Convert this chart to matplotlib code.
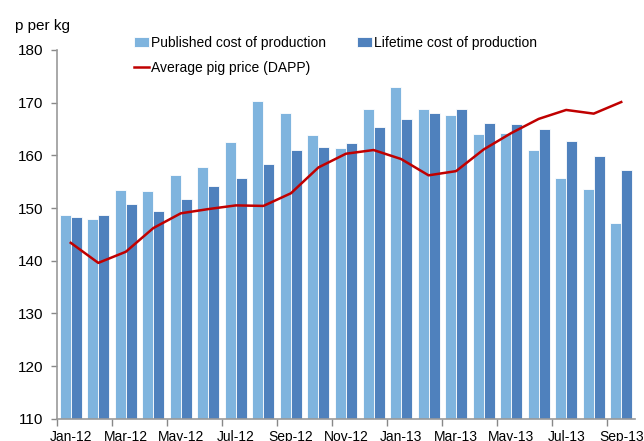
import matplotlib
matplotlib.use("Agg")
import matplotlib.pyplot as plt
import numpy as np

plt.rcParams['font.family'] = ['Liberation Sans', 'DejaVu Sans']

months = ["Jan-12", "Feb-12", "Mar-12", "Apr-12", "May-12", "Jun-12", "Jul-12",
          "Aug-12", "Sep-12", "Oct-12", "Nov-12", "Dec-12", "Jan-13", "Feb-13",
          "Mar-13", "Apr-13", "May-13", "Jun-13", "Jul-13", "Aug-13", "Sep-13"]
published = [148.6, 148.0, 153.5, 153.2, 156.2, 157.8, 162.6, 170.3, 168.0, 163.9,
             161.4, 168.8, 173.0, 168.8, 167.7, 164.1, 164.3, 161.0, 155.6, 153.7, 147.2]
lifetime = [148.3, 148.6, 150.8, 149.5, 151.8, 154.1, 155.6, 158.3, 161.0, 161.6,
            162.4, 165.3, 166.8, 168.1, 168.8, 166.1, 165.9, 164.9, 162.7, 159.9, 157.2]
dapp = [143.4, 139.6, 141.7, 146.2, 149.0, 149.8, 150.5, 150.4, 152.8, 157.7,
        160.3, 161.0, 159.3, 156.2, 157.0, 161.1, 164.2, 166.9, 168.6, 167.9, 170.1]

light = "#7FB4DE"
dark = "#4F81BD"
red = "#C00000"

fig = plt.figure(figsize=(6.44, 4.41), dpi=100)
ax = fig.add_axes([0.0885, 0.050, 0.8975, 0.837])

x = np.arange(len(months))
w = 0.4
b1 = ax.bar(x - w/2, np.array(published) - 110, w, bottom=110, color=light,
            edgecolor="white", linewidth=0.6, label="Published cost of production")
b2 = ax.bar(x + w/2, np.array(lifetime) - 110, w, bottom=110, color=dark,
            edgecolor="white", linewidth=0.6, label="Lifetime cost of production")
l1, = ax.plot(x, dapp, color=red, linewidth=1.8, label="Average pig price (DAPP)")

ax.set_xlim(-0.5, len(months) - 0.5)
ax.set_ylim(110, 180)
ax.set_yticks(np.arange(110, 181, 10))
ax.tick_params(axis='y', labelsize=11, colors="#888888", labelcolor="black",
               length=4, width=1, pad=6)
ax.set_xticks(x[::2])
ax.set_xticklabels(months[::2])
ax.set_xticks(np.arange(-0.5, len(months) - 0.5, 2), minor=True)
ax.tick_params(axis='x', which='major', length=0, labelsize=10, pad=8)
ax.tick_params(axis='x', which='minor', length=5, width=1, colors="#888888")

for s in ["top", "right"]:
    ax.spines[s].set_visible(False)
for s in ["left", "bottom"]:
    ax.spines[s].set_color("#999999")
    ax.spines[s].set_linewidth(1.2)

fig.text(0.023, 0.940, "p per kg", fontsize=11, ha="left", va="center")

fig.legend([b1, l1, b2],
           ["Published cost of production", "Average pig price (DAPP)",
            "Lifetime cost of production"],
           ncol=2, loc="upper left", bbox_to_anchor=(0.2075, 0.919),
           frameon=False, fontsize=10, handlelength=1.1, handletextpad=0.15,
           columnspacing=2.2, labelspacing=0.8, borderaxespad=0, borderpad=0)

fig.savefig("out.png", dpi=100)
